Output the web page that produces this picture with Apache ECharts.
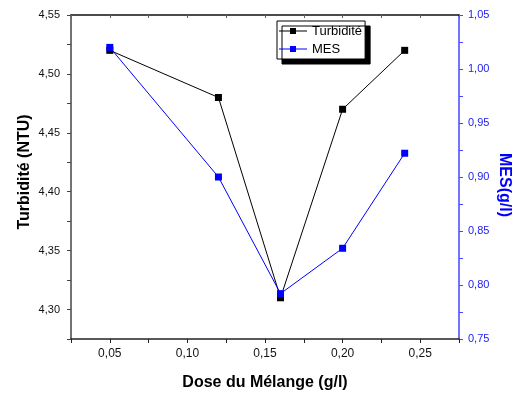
<!DOCTYPE html>
<html>
<head>
<meta charset="utf-8">
<script src="https://cdn.jsdelivr.net/npm/echarts@6/dist/echarts.min.js"></script>
<style>
html,body{margin:0;padding:0;background:#fff;}
#c{width:516px;height:396px;}
</style>
</head>
<body>
<div id="c"></div>
<script>
// Data
var doses = [0.05, 0.12, 0.16, 0.20, 0.24];
var turbidite = [4.52, 4.48, 4.31, 4.47, 4.52];
var mes = [1.02, 0.90, 0.792, 0.834, 0.922];
var seriesNames = ['Turbidité', 'MES'];
var xTitle = 'Dose du Mélange (g/l)';
var yLeftTitle = 'Turbidité (NTU)';
var yRightTitle = 'MES(g/l)';

function pairs(xs, ys) { return xs.map(function (x, i) { return [x, ys[i]]; }); }
function fmt(step) {
  return function (v) {
    var r = v / step;
    if (Math.abs(r - Math.round(r)) > 1e-6) return '';
    return v.toFixed(2).replace('.', ',');
  };
}
var FONT = 'Liberation Sans';
var BLUE = '#0000ff';
var AXBLUE = '#4646ff';
var icon = 'path://M0,2.5h11v1h-11z M11,0h6v6h-6z M17,2.5h11v1h-11z';

var chart = echarts.init(document.getElementById('c'), null, {renderer: 'canvas'});
chart.setOption({
  animation: false,
  backgroundColor: '#fff',
  grid: {left: 71, right: 57, top: 15, bottom: 55},
  legend: {
    orient: 'vertical', left: 277, top: 21,
    padding: [2, 3, 2, 2], itemGap: 2, itemWidth: 28, itemHeight: 6, itemTextGap: 5,
    backgroundColor: '#fff', borderColor: '#000', borderWidth: 1,
    shadowColor: '#000', shadowBlur: 0, shadowOffsetX: 5, shadowOffsetY: 5,
    textStyle: {fontFamily: FONT, fontSize: 13, color: '#000', lineHeight: 16},
    data: [{name: seriesNames[0], icon: icon}, {name: seriesNames[1], icon: icon}]
  },
  xAxis: [{
    type: 'value', min: 0.025, max: 0.275, interval: 0.025,
    name: xTitle, nameLocation: 'middle', nameGap: 36,
    nameTextStyle: {fontFamily: FONT, fontSize: 16, fontWeight: 'bold', color: '#000'},
    axisLine: {lineStyle: {color: '#222', width: 1.5}},
    axisTick: {inside: false, length: 4, lineStyle: {color: '#222', width: 1}},
    axisLabel: {formatter: fmt(0.05), fontFamily: FONT, fontSize: 12, color: '#111', margin: 9, showMinLabel: true, showMaxLabel: true},
    splitLine: {show: false}
  }, {
    type: 'value', position: 'top', min: 0.025, max: 0.275, interval: 0.025,
    axisLine: {lineStyle: {color: '#111', width: 1.5}},
    axisTick: {inside: true, length: 3, lineStyle: {color: '#666', width: 1}},
    axisLabel: {show: false},
    splitLine: {show: false}
  }],
  yAxis: [{
    type: 'value', min: 4.275, max: 4.55, interval: 0.025,
    axisLine: {show: true, lineStyle: {color: '#444', width: 1.5}},
    axisTick: {show: true, inside: false, length: 4, lineStyle: {color: '#444', width: 1}},
    axisLabel: {formatter: fmt(0.05), fontFamily: FONT, fontSize: 11, color: '#111', margin: 11, showMinLabel: true, showMaxLabel: true},
    splitLine: {show: false}
  }, {
    type: 'value', position: 'right', min: 0.75, max: 1.05, interval: 0.025,
    axisLine: {show: true, lineStyle: {color: AXBLUE, width: 1.5}},
    axisTick: {show: true, inside: false, length: 4, lineStyle: {color: AXBLUE, width: 1}},
    axisLabel: {formatter: fmt(0.05), fontFamily: FONT, fontSize: 11, color: '#2222ee', margin: 9, showMinLabel: true, showMaxLabel: true},
    splitLine: {show: false}
  }],
  graphic: [{
    type: 'text', x: 25, y: 172, rotation: Math.PI / 2,
    style: {text: yLeftTitle, font: 'bold 16px "Liberation Sans"', fill: '#000', align: 'center', verticalAlign: 'middle'}
  }, {
    type: 'text', x: 504, y: 185, rotation: -Math.PI / 2,
    style: {text: yRightTitle, font: 'bold 16px "Liberation Sans"', fill: BLUE, align: 'center', verticalAlign: 'middle'}
  }],
  series: [{
    name: seriesNames[0], type: 'line', xAxisIndex: 0, yAxisIndex: 0,
    data: pairs(doses, turbidite),
    symbol: 'rect', symbolSize: 7,
    lineStyle: {color: '#000', width: 1},
    itemStyle: {color: '#000'}
  }, {
    name: seriesNames[1], type: 'line', xAxisIndex: 0, yAxisIndex: 1,
    data: pairs(doses, mes),
    symbol: 'rect', symbolSize: 7,
    lineStyle: {color: BLUE, width: 1},
    itemStyle: {color: BLUE}
  }]
});
</script>
</body>
</html>
